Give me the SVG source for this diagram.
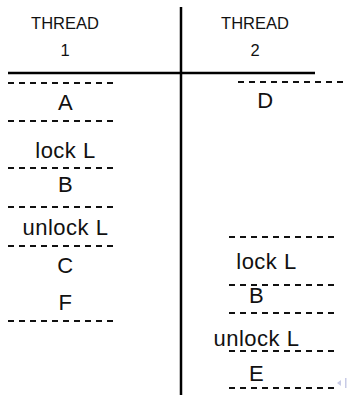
<svg xmlns="http://www.w3.org/2000/svg" width="347" height="396" viewBox="0 0 347 396">
  <style>
    .hdr { font-family: "Liberation Sans", Arial, sans-serif; font-size: 16.5px; fill: #111; text-anchor: middle; }
    .lbl { font-family: "Liberation Sans", Arial, sans-serif; font-size: 22px; letter-spacing: 0.5px; fill: #111; text-anchor: middle; }
    .rule { stroke: #000; stroke-width: 2.5; fill: none; }
    .dash { stroke: #111; stroke-width: 1.9; stroke-dasharray: 6 5; fill: none; }
  </style>
  <rect width="347" height="396" fill="#fff"/>

  <!-- table frame: column divider and header rule -->
  <g id="frame">
    <line class="rule" x1="181" y1="7" x2="181" y2="395"/>
    <line class="rule" x1="8" y1="73" x2="315" y2="73"/>
  </g>

  <!-- column headers -->
  <g id="header-1">
    <text class="hdr" x="65" y="29">THREAD</text>
    <text class="hdr" x="65" y="56">1</text>
  </g>
  <g id="header-2">
    <text class="hdr" x="255" y="29">THREAD</text>
    <text class="hdr" x="255" y="56">2</text>
  </g>

  <!-- step separators -->
  <g id="separators">
    <line class="dash" x1="8" y1="83" x2="118" y2="83"/>
    <line class="dash" x1="8" y1="121" x2="118" y2="121"/>
    <line class="dash" x1="8" y1="168" x2="118" y2="168"/>
    <line class="dash" x1="8" y1="207" x2="118" y2="207"/>
    <line class="dash" x1="8" y1="246" x2="118" y2="246"/>
    <line class="dash" x1="8" y1="321" x2="118" y2="321"/>

    <line class="dash" x1="238" y1="82" x2="347" y2="82"/>
    <line class="dash" x1="229" y1="237" x2="339" y2="237"/>
    <line class="dash" x1="229" y1="285" x2="339" y2="285"/>
    <line class="dash" x1="229" y1="313" x2="339" y2="313"/>
    <line class="dash" x1="229" y1="351" x2="339" y2="351"/>
    <line class="dash" x1="229" y1="388" x2="339" y2="388"/>
  </g>

  <!-- thread 1 steps -->
  <g id="t1-A"><text class="lbl" x="65.5" y="110">A</text></g>
  <g id="t1-lock"><text class="lbl" x="65.5" y="158">lock L</text></g>
  <g id="t1-B"><text class="lbl" x="65.5" y="192">B</text></g>
  <g id="t1-unlock"><text class="lbl" x="65.5" y="235">unlock L</text></g>
  <g id="t1-C"><text class="lbl" x="65.5" y="273">C</text></g>
  <g id="t1-F"><text class="lbl" x="65.5" y="310">F</text></g>

  <!-- thread 2 steps -->
  <g id="t2-D"><text class="lbl" x="265.5" y="108">D</text></g>
  <g id="t2-lock"><text class="lbl" x="266.5" y="269">lock L</text></g>
  <g id="t2-B"><text class="lbl" x="256.5" y="303">B</text></g>
  <g id="t2-unlock"><text class="lbl" x="256.5" y="346">unlock L</text></g>
  <g id="t2-E"><text class="lbl" x="256.5" y="381">E</text></g>

  <!-- navigation glyph in the corner -->
  <g id="nav" fill="#c8cbe6">
    <polygon points="337,383 341,380 341,386"/>
    <rect x="345" y="378" width="1.5" height="10"/>
  </g>
</svg>
